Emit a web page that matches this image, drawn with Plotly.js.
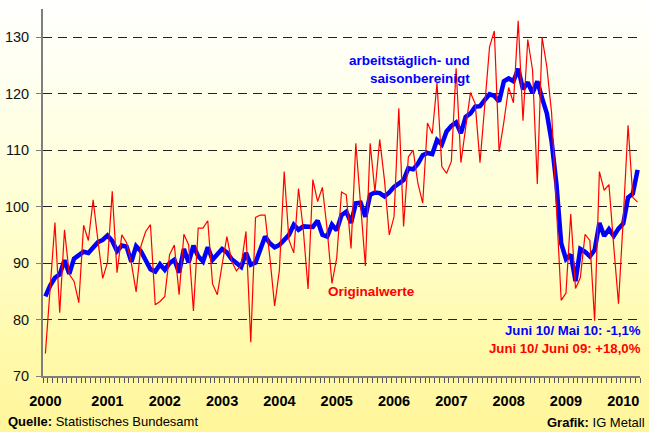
<!DOCTYPE html>
<html>
<head>
<meta charset="utf-8">
<script src="https://cdn.plot.ly/plotly-3.0.1.min.js"></script>
<style>
  html, body { margin: 0; padding: 0; }
  body { width: 649px; height: 432px; overflow: hidden;
    background: linear-gradient(180deg, #FFFFFF 0%, #FFFFF0 18%, #FFFFD2 50%, #FFFAAE 78%, #FFF59A 100%); }
  #chart { width: 649px; height: 432px; }
</style>
</head>
<body>
<div id="chart"></div>
<script>
// Monthly index values (2005 = 100), first point at start of 2000
const originalwerte = [
  74.0, 86.0, 97.2, 81.2, 95.9, 88.0, 86.8, 83.0, 96.7, 94.0, 101.2, 94.0,
  87.3, 90.1, 102.7, 88.3, 95.0, 93.6, 90.0, 84.9, 93.0, 95.6, 96.8, 82.6,
  83.2, 84.1, 91.5, 93.2, 84.4, 95.1, 93.2, 81.5, 96.2, 96.2, 97.5, 86.3,
  84.4, 89.7, 94.7, 90.3, 88.6, 89.7, 95.6, 76.0, 98.1, 98.5, 98.5, 91.0,
  82.4, 88.8, 106.2, 94.1, 91.8, 103.2, 95.9, 85.4, 104.8, 100.9, 103.4, 95.9,
  86.4, 90.9, 102.6, 102.1, 92.6, 111.2, 100.0, 89.5, 111.2, 102.6, 111.9, 104.7,
  95.0, 98.2, 117.4, 96.5, 108.8, 110.0, 104.1, 100.6, 114.8, 112.9, 121.9, 107.1,
  105.9, 108.0, 124.5, 107.8, 114.0, 120.2, 118.2, 107.8, 118.0, 128.3, 131.1, 109.7,
  115.0, 121.1, 118.4, 132.9, 115.2, 129.6, 124.2, 104.0, 130.0, 124.7, 116.5, 99.0,
  83.4, 84.7, 98.7, 85.5, 87.4, 95.1, 94.0, 79.8, 106.2, 102.9, 103.9, 93.0,
  82.8, 98.0, 114.4, 101.6, 100.8
];
const bereinigt = [
  84.1, 86.0, 87.4, 88.0, 90.5, 88.1, 90.8, 91.4, 92.0, 91.8, 92.8, 93.7,
  94.1, 94.9, 93.9, 92.1, 93.1, 92.9, 90.2, 93.0, 92.1, 90.4, 88.9, 88.5,
  89.8, 88.8, 90.0, 90.6, 88.3, 92.5, 90.1, 93.1, 91.2, 90.3, 92.8, 90.6,
  91.5, 92.5, 91.9, 90.7, 90.0, 89.3, 91.8, 89.7, 90.1, 92.5, 94.7, 93.5,
  92.8, 93.2, 94.1, 95.0, 96.8, 95.9, 96.5, 96.4, 96.4, 97.5, 95.0, 94.7,
  96.8, 95.8, 98.5, 99.1, 97.1, 100.6, 100.7, 98.2, 102.1, 102.5, 102.4, 101.8,
  102.5, 103.5, 104.2, 104.7, 106.8, 106.6, 107.6, 109.1, 109.5, 109.3, 111.8, 111.0,
  113.3, 114.3, 114.9, 113.0, 115.9, 116.5, 117.7, 117.8, 118.9, 119.9, 119.6, 118.6,
  122.2, 122.7, 122.2, 124.4, 120.8, 122.0, 120.1, 122.2, 119.2, 116.5, 111.5, 104.0,
  93.5, 90.7, 91.5, 86.8, 92.5, 92.0, 91.2, 92.3, 97.1, 94.8, 96.0, 94.8,
  96.1, 97.0, 101.6, 102.3, 106.5
];
const years = ['2000','2001','2002','2003','2004','2005','2006','2007','2008','2009','2010'];
const yTicks = [70, 80, 90, 100, 110, 120, 130];

const idx = originalwerte.map((_, i) => i);
const yearPos = years.map((_, k) => k === 0 ? 0 : 12 * k + 1);
const monthBounds = [];
for (let i = 0; i <= originalwerte.length; i++) monthBounds.push(i - 0.5);

const FONT = 'Liberation Sans, Arial, sans-serif';

const traces = [
  { x: idx, y: bereinigt, type: 'scatter', mode: 'lines',
    line: { color: '#0000FF', width: 4.5 }, hoverinfo: 'skip' },
  { x: idx, y: originalwerte, type: 'scatter', mode: 'lines',
    line: { color: '#FF0000', width: 1.2 }, hoverinfo: 'skip' }
];

const layout = {
  width: 649, height: 432,
  margin: { l: 43, r: 9, t: 8.5, b: 56 },
  paper_bgcolor: 'rgba(0,0,0,0)',
  plot_bgcolor: 'rgba(0,0,0,0)',
  showlegend: false,
  font: { family: FONT, color: '#000' },
  xaxis: {
    range: [-0.5, originalwerte.length - 0.5],
    tickmode: 'array', tickvals: yearPos, ticktext: years,
    ticks: 'outside', ticklen: 5, tickcolor: 'rgba(0,0,0,0)',
    tickfont: { family: FONT, size: 14.5, weight: 'bold', color: '#000' },
    ticklabelstandoff: 6,
    showgrid: false, zeroline: false,
    showline: true, linecolor: '#7F7F7F', linewidth: 2,
    minor: { tickmode: 'array', tickvals: monthBounds, ticks: 'outside',
             ticklen: 5, tickcolor: '#555', tickwidth: 1, showgrid: false },
    fixedrange: true
  },
  yaxis: {
    range: [70, 135],
    tickmode: 'array', tickvals: yTicks,
    ticks: 'outside', ticklen: 5, tickcolor: '#7F7F7F', tickwidth: 1,
    tickfont: { family: FONT, size: 14.5, color: '#111' },
    ticklabelstandoff: 4,
    showgrid: true, gridcolor: '#222', gridwidth: 1, griddash: '9px,6px',
    zeroline: false,
    showline: true, linecolor: '#7F7F7F', linewidth: 2,
    fixedrange: true
  },
  annotations: [
    { xref: 'paper', yref: 'paper', x: 0.7186, y: 0.8354, xanchor: 'right', yanchor: 'middle',
      align: 'right', showarrow: false,
      text: 'arbeitstäglich- und<br>saisonbereinigt',
      font: { family: FONT, size: 13.5, weight: 'bold', color: '#0000FF' } },
    { xref: 'paper', yref: 'paper', x: 0.4735, y: 0.2313, xanchor: 'left', yanchor: 'middle',
      showarrow: false, text: 'Originalwerte',
      font: { family: FONT, size: 13.5, weight: 'bold', color: '#FF0000' } },
    { xref: 'paper', yref: 'paper', x: 1.0045, y: 0.1233, xanchor: 'right', yanchor: 'middle',
      showarrow: false, text: 'Juni 10/ Mai 10: -1,1%',
      font: { family: FONT, size: 13.2, weight: 'bold', color: '#0000FF' } },
    { xref: 'paper', yref: 'paper', x: 1.0045, y: 0.0754, xanchor: 'right', yanchor: 'middle',
      showarrow: false, text: 'Juni 10/ Juni 09: +18,0%',
      font: { family: FONT, size: 13.2, weight: 'bold', color: '#FF0000' } },
    { xref: 'paper', yref: 'paper', x: -0.0625, y: -0.1238, xanchor: 'left', yanchor: 'middle',
      showarrow: false, text: '<b>Quelle:</b> Statistisches Bundesamt',
      font: { family: FONT, size: 13, color: '#000' } },
    { xref: 'paper', yref: 'paper', x: 1.0117, y: -0.1279, xanchor: 'right', yanchor: 'middle',
      showarrow: false, text: '<b>Grafik:</b> IG Metall',
      font: { family: FONT, size: 13, color: '#000' } }
  ]
};

Plotly.newPlot('chart', traces, layout, { staticPlot: true, displayModeBar: false });
</script>
</body>
</html>
